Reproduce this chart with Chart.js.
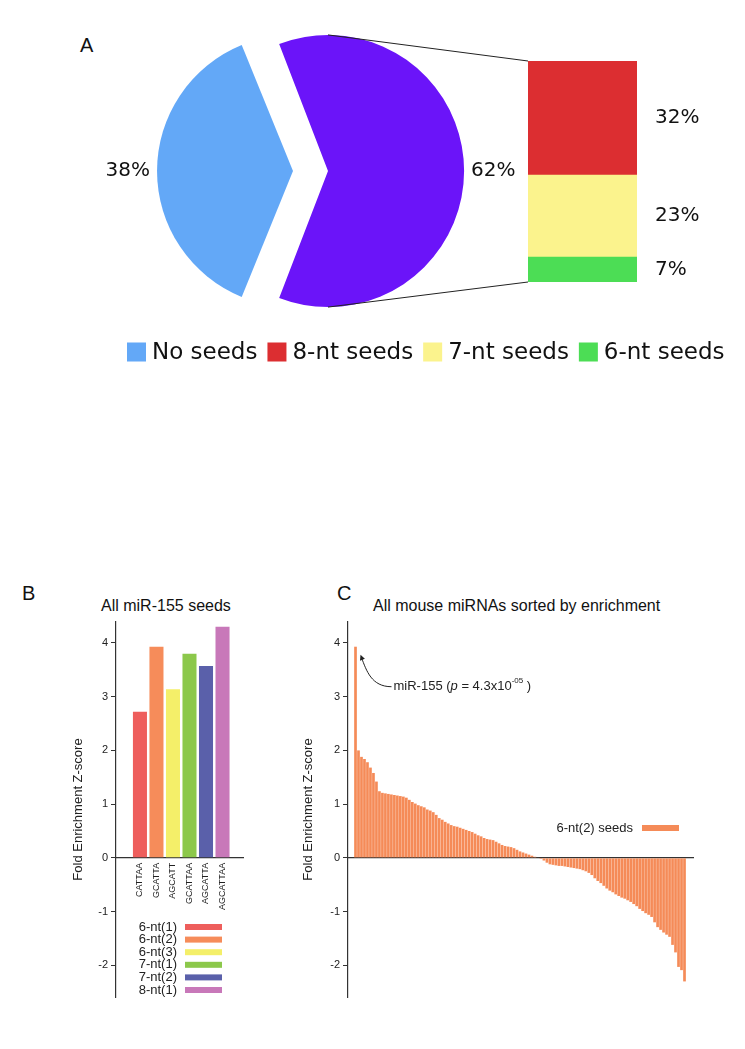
<!DOCTYPE html>
<html>
<head>
<meta charset="utf-8">
<script src="https://cdn.jsdelivr.net/npm/chart.js@4.4.0/dist/chart.umd.min.js"></script>
<style>
  html, body { margin: 0; padding: 0; background: #fff; }
  #page { position: relative; width: 745px; height: 1049px; overflow: hidden;
          font-family: "Liberation Sans", Arial, sans-serif; color: #111; }
  canvas { position: absolute; }
  .panel-letter { position: absolute; font-size: 20px; line-height: 20px; }
  .panel-title { position: absolute; font-size: 16px; line-height: 16px; white-space: nowrap; color: #111; }
</style>
</head>
<body>
<div id="page">
  <div class="panel-letter" style="left:80px; top:35px">A</div>
  <div class="panel-letter" style="left:22px; top:583px">B</div>
  <div class="panel-letter" style="left:337px; top:583px">C</div>
  <div class="panel-title" style="left:101px; top:598px">All miR-155 seeds</div>
  <div class="panel-title" style="left:373px; top:598px">All mouse miRNAs sorted by enrichment</div>

  <canvas id="pieChart" width="745" height="400" style="left:0; top:0"></canvas>
  <canvas id="zoomChart" width="745" height="400" style="left:0; top:0"></canvas>
  <canvas id="seedChart" width="270" height="420" style="left:0; top:590px"></canvas>
  <canvas id="rankChart" width="430" height="420" style="left:290px; top:590px"></canvas>
</div>

<script>
// ---- data ----
// Panel A
const pieLabels = ['No seeds', 'Seeds'];
const pieShares = [38, 62];
const seedTypeLabels = ['6-nt seeds', '7-nt seeds', '8-nt seeds']; // stacked bottom -> top
const seedTypeShares = [7, 23, 32];
const legendALabels = ['No seeds', '8-nt seeds', '7-nt seeds', '6-nt seeds'];

// Panel B
const seedSequences = ['CATTAA', 'GCATTA', 'AGCATT', 'GCATTAA', 'AGCATTA', 'AGCATTAA'];
const seedNames = ['6-nt(1)', '6-nt(2)', '6-nt(3)', '7-nt(1)', '7-nt(2)', '8-nt(1)'];
const seedZScores = [2.72, 3.93, 3.14, 3.80, 3.57, 4.30];

// Panel C (sorted z-scores of all mouse miRNAs, 6-nt(2) seeds)
const rankSeriesName = '6-nt(2) seeds';
const mirnaZScores = [
  3.93, 2.00, 1.88, 1.84, 1.78, 1.68, 1.58, 1.42, 1.24, 1.21,
  1.20, 1.19, 1.18, 1.17, 1.16, 1.15, 1.14, 1.12, 1.08, 1.04,
  1.01, 0.98, 0.96, 0.94, 0.90, 0.88, 0.85, 0.80, 0.74, 0.71,
  0.67, 0.64, 0.61, 0.59, 0.58, 0.56, 0.54, 0.52, 0.50, 0.48,
  0.45, 0.42, 0.40, 0.37, 0.35, 0.34, 0.33, 0.30, 0.27, 0.24,
  0.22, 0.21, 0.20, 0.18, 0.15, 0.12, 0.10, 0.08, 0.06, 0.04,
  0.02, 0.01, -0.02, -0.05, -0.09, -0.12, -0.13, -0.14, -0.15, -0.15,
  -0.16, -0.17, -0.18, -0.19, -0.20, -0.21, -0.23, -0.25, -0.28, -0.32,
  -0.38, -0.43, -0.47, -0.52, -0.57, -0.61, -0.64, -0.68, -0.71, -0.74,
  -0.76, -0.79, -0.82, -0.86, -0.90, -0.95, -0.99, -1.03, -1.06, -1.10,
  -1.20, -1.29, -1.34, -1.39, -1.43, -1.47, -1.62, -1.76, -2.03, -2.09,
  -2.30
];
const zAxisMin = -2.59;
const zAxisMax = 4.39;

// ---- colours ----
const pieColors = ['#63a8f7', '#6b14f9'];
const seedTypeColors = ['#4cdd55', '#fbf38d', '#dc2e31'];
const legendAColors = ['#63a8f7', '#dc2e31', '#fbf38d', '#4cdd55'];
const seedColors = ['#ee5e5c', '#f68c5a', '#f4ef69', '#8cc84b', '#5a60aa', '#c878b9'];
const rankColor = '#f58b58';

Chart.defaults.font.family = '"Liberation Sans", Arial, sans-serif';
Chart.defaults.color = '#222';

// geometry of a drawn pie slice, including the offset shift chart.js applies
function arcGeometry(arc) {
  const p = arc.getProps(['x', 'y', 'startAngle', 'endAngle', 'outerRadius', 'circumference']);
  const off = (arc.options.offset || 0) / 4;
  const mid = (p.startAngle + p.endAngle) / 2;
  const r = p.outerRadius + off * (1 - Math.sin(Math.min(Math.PI, p.circumference)));
  return { cx: p.x + Math.cos(mid) * off, cy: p.y + Math.sin(mid) * off, r: r, mid: mid };
}

// Pie percent labels
const pieLabelPlugin = {
  id: 'pieLabels',
  afterDatasetsDraw(chart) {
    const ctx = chart.ctx;
    const arcs = chart.getDatasetMeta(0).data;
    ctx.save();
    ctx.font = '20px "DejaVu Sans"';
    ctx.fillStyle = '#111';
    ctx.textBaseline = 'middle';
    arcs.forEach((arc, i) => {
      const g = arcGeometry(arc);
      const c = Math.cos(g.mid);
      ctx.textAlign = c < 0 ? 'right' : 'left';
      ctx.fillText(pieShares[i] + '%', g.cx + c * (g.r + 7), g.cy + Math.sin(g.mid) * (g.r + 7));
    });
    ctx.restore();
  }
};

const pieChart = new Chart(document.getElementById('pieChart'), {
  type: 'pie',
  data: {
    labels: pieLabels,
    datasets: [{
      data: pieShares,
      backgroundColor: pieColors,
      borderWidth: 0,
      offset: [106, 34],
      rotation: 201.6,
      radius: 127.6
    }]
  },
  options: {
    responsive: false,
    animation: false,
    events: [],
    layout: { padding: { right: 106, bottom: 58 } },
    plugins: { legend: { display: false }, tooltip: { enabled: false } }
  },
  plugins: [pieLabelPlugin]
});

// stacked bar: lines to the pie, percent labels, legend of panel A
const zoomDecor = {
  id: 'zoomDecor',
  afterDraw(chart) {
    const ctx = chart.ctx;
    const n = chart.data.datasets.length;
    const topBar = chart.getDatasetMeta(n - 1).data[0];
    const bottomBar = chart.getDatasetMeta(0).data[0];
    const left = topBar.x - topBar.width / 2;
    const g = arcGeometry(pieChart.getDatasetMeta(0).data[1]);

    ctx.save();
    ctx.strokeStyle = '#222';
    ctx.lineWidth = 1;
    ctx.beginPath();
    ctx.moveTo(g.cx, g.cy - g.r);
    ctx.lineTo(left, topBar.y);
    ctx.moveTo(g.cx, g.cy + g.r);
    ctx.lineTo(left, bottomBar.base);
    ctx.stroke();

    ctx.font = '20px "DejaVu Sans"';
    ctx.fillStyle = '#111';
    ctx.textAlign = 'left';
    ctx.textBaseline = 'middle';
    chart.data.datasets.forEach((ds, i) => {
      const bar = chart.getDatasetMeta(i).data[0];
      ctx.fillText(ds.data[0] + '%', bar.x + bar.width / 2 + 18, (bar.y + bar.base) / 2);
    });

    // legend
    ctx.font = '23px "DejaVu Sans"';
    let x = 127;
    const y = 352;
    legendALabels.forEach((label, i) => {
      ctx.fillStyle = legendAColors[i];
      ctx.fillRect(x, y - 9.5, 19, 19);
      ctx.fillStyle = '#111';
      ctx.fillText(label, x + 25, y + 1);
      x += 25 + ctx.measureText(label).width + 10;
    });
    ctx.restore();
  }
};

const zoomChart = new Chart(document.getElementById('zoomChart'), {
  type: 'bar',
  data: {
    labels: [''],
    datasets: seedTypeLabels.map((label, i) => ({
      label: label,
      data: [seedTypeShares[i]],
      backgroundColor: seedTypeColors[i],
      borderWidth: 0,
      barPercentage: 1,
      categoryPercentage: 1
    }))
  },
  options: {
    responsive: false,
    animation: false,
    events: [],
    layout: { padding: { left: 528, right: 108, top: 61, bottom: 118 } },
    scales: {
      x: { display: false, stacked: true },
      y: { display: false, stacked: true, min: 0, max: seedTypeShares.reduce((a, b) => a + b, 0) }
    },
    plugins: { legend: { display: false }, tooltip: { enabled: false } }
  },
  plugins: [zoomDecor]
});

// shared y axis for panels B and C
function zAxis(width) {
  return {
    min: zAxisMin,
    max: zAxisMax,
    grid: { drawOnChartArea: false, tickLength: 5, color: '#333' },
    border: { color: '#333', width: 1.2 },
    ticks: { stepSize: 1, includeBounds: false, padding: 3, font: { size: 11 }, color: '#222' },
    title: { display: true, text: 'Fold Enrichment Z-score', font: { size: 13 }, color: '#222', padding: { top: 4, bottom: 0 } },
    afterFit: s => { s.width = width; }
  };
}

// Panel B legend
const seedLegend = {
  id: 'seedLegend',
  afterDraw(chart) {
    const ctx = chart.ctx;
    const area = chart.chartArea;
    ctx.save();
    ctx.font = '13px "Liberation Sans"';
    ctx.textAlign = 'right';
    ctx.textBaseline = 'middle';
    seedNames.forEach((name, i) => {
      const y = area.bottom - 70 + i * 12.6;
      ctx.fillStyle = '#222';
      ctx.fillText(name, area.left + 61, y);
      ctx.fillStyle = seedColors[i];
      ctx.fillRect(area.left + 69, y - 3, 37, 6);
    });
    ctx.restore();
  }
};

const seedChart = new Chart(document.getElementById('seedChart'), {
  type: 'bar',
  data: {
    datasets: [{
      label: 'All miR-155 seeds',
      data: seedZScores.map((v, i) => ({ x: i, y: v })),
      backgroundColor: seedColors,
      borderWidth: 0,
      barPercentage: 0.85,
      categoryPercentage: 1
    }]
  },
  options: {
    responsive: false,
    animation: false,
    events: [],
    layout: { padding: { left: 67, top: 32, right: 27, bottom: 13 } },
    scales: {
      x: {
        type: 'linear',
        offset: false,
        bounds: 'data',
        min: -1.45,
        max: 6.24,
        position: { y: 0 },
        grid: { display: false, drawTicks: false },
        border: { color: '#333', width: 1.2 },
        afterBuildTicks: s => { s.ticks = seedSequences.map((_, i) => ({ value: i })); },
        ticks: {
          autoSkip: false,
          minRotation: 90, maxRotation: 90, padding: 5,
          font: { size: 9 }, color: '#222',
          callback: v => seedSequences[v] ?? ''
        },
        afterFit: s => { s.height = 0; }
      },
      y: zAxis(49)
    },
    plugins: { legend: { display: false }, tooltip: { enabled: false } }
  },
  plugins: [seedLegend]
});

// Panel C annotation + legend
const rankDecor = {
  id: 'rankDecor',
  afterDraw(chart) {
    const ctx = chart.ctx;
    const area = chart.chartArea;
    const top = chart.getDatasetMeta(0).data[0];
    ctx.save();

    // curved arrow to miR-155
    const sx = top.x + 36, sy = top.y + 40;
    const ex = top.x + 5, ey = top.y + 8;
    ctx.strokeStyle = '#222';
    ctx.fillStyle = '#222';
    ctx.lineWidth = 1;
    ctx.beginPath();
    ctx.moveTo(sx, sy);
    ctx.bezierCurveTo(sx - 20, sy, ex + 6, ey + 16, ex + 1, ey + 3);
    ctx.stroke();
    const ang = Math.atan2(-13, -5);
    ctx.beginPath();
    ctx.moveTo(ex, ey);
    ctx.lineTo(ex - 6 * Math.cos(ang - 0.45), ey - 6 * Math.sin(ang - 0.45));
    ctx.lineTo(ex - 6 * Math.cos(ang + 0.45), ey - 6 * Math.sin(ang + 0.45));
    ctx.closePath();
    ctx.fill();

    // label text
    let x = sx + 2;
    const y = sy;
    ctx.textAlign = 'left';
    ctx.textBaseline = 'middle';
    const parts = [
      ['miR-155 (', '13px "Liberation Sans"', 0],
      ['p', 'italic 13px "Liberation Sans"', 0],
      [' = 4.3x10', '13px "Liberation Sans"', 0],
      ['-05', '8px "Liberation Sans"', -6],
      [' )', '13px "Liberation Sans"', 0]
    ];
    parts.forEach(([t, f, dy]) => {
      ctx.font = f;
      ctx.fillText(t, x, y + dy);
      x += ctx.measureText(t).width;
    });

    // legend
    ctx.font = '13px "Liberation Sans"';
    ctx.textAlign = 'right';
    const ly = area.top + 206;
    ctx.fillText(rankSeriesName, area.right - 60, ly);
    ctx.fillStyle = rankColor;
    ctx.fillRect(area.right - 51, ly - 3, 37, 6);
    ctx.restore();
  }
};

const rankChart = new Chart(document.getElementById('rankChart'), {
  type: 'bar',
  data: {
    datasets: [{
      label: rankSeriesName,
      data: mirnaZScores.map((v, i) => ({ x: i, y: v })),
      backgroundColor: rankColor,
      borderWidth: 0,
      barPercentage: 0.9,
      categoryPercentage: 1
    }]
  },
  options: {
    responsive: false,
    animation: false,
    events: [],
    layout: { padding: { left: 7, top: 32, right: 27, bottom: 13 } },
    scales: {
      x: {
        type: 'linear',
        offset: false,
        bounds: 'data',
        min: -2.51,
        max: 112.84,
        position: { y: 0 },
        grid: { display: false, drawTicks: false },
        border: { color: '#333', width: 1.2 },
        ticks: { display: false },
        afterFit: s => { s.height = 0; }
      },
      y: zAxis(51)
    },
    plugins: { legend: { display: false }, tooltip: { enabled: false } }
  },
  plugins: [rankDecor]
});
</script>
</body>
</html>
